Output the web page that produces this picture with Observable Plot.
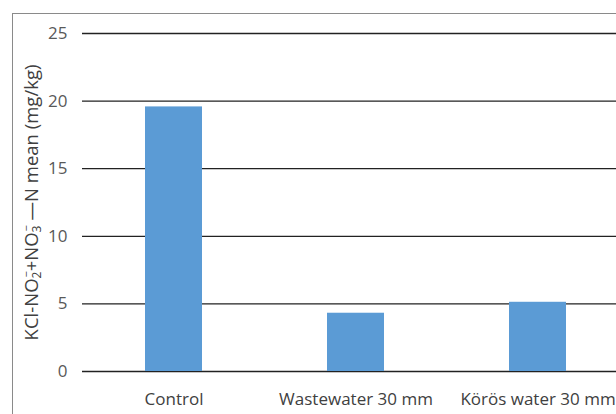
<!DOCTYPE html>
<html>
<head>
<meta charset="utf-8">
<script src="https://cdn.jsdelivr.net/npm/d3@7"></script>
<script src="https://cdn.jsdelivr.net/npm/@observablehq/plot@0.6"></script>
<style>
  html, body { margin: 0; padding: 0; background: #fff; overflow: hidden; }
  #wrap { position: relative; width: 616px; height: 414px; }
  #frame { position: absolute; left: 12px; top: 13px; width: 700px; height: 500px;
           border-left: 1.5px solid #8a8a8a; border-top: 1.5px solid #8a8a8a; box-sizing: border-box; }
  #chart { position: absolute; left: 0; top: 0; }
</style>
</head>
<body>
<div id="wrap"><div id="frame"></div><div id="chart"></div></div>
<script>
const categories = ["Control", "Wastewater 30 mm", "Körös water 30 mm"];
const values = [19.57, 4.31, 5.12];
const yTicks = [0, 5, 10, 15, 20, 25];
const yLabel = "KCl-NO₂⁻+NO₃⁻ —N mean (mg/kg)";

const data = categories.map((c, i) => ({category: c, value: values[i]}));
const font = "'Open Sans', sans-serif";

const chart = Plot.plot({
  width: 616,
  height: 414,
  marginLeft: 82,
  marginRight: 0,
  marginTop: 33,
  marginBottom: 43,
  style: {fontFamily: font, fontSize: "17px", background: "transparent", overflow: "visible"},
  x: {domain: categories, range: [82, 628], paddingInner: 0.687, paddingOuter: 0.3435, label: null},
  y: {domain: [0, 25], label: null},
  marks: [
    Plot.ruleY(yTicks, {stroke: "#222", strokeWidth: 1.3}),
    Plot.barY(data, {x: "category", y: "value", fill: "#5B9BD5"}),
    Plot.axisY({ticks: yTicks, tickSize: 0, tickPadding: 15, label: null, fill: "#595959", fontSize: 17}),
    Plot.axisX({tickSize: 0, tickPadding: 21, label: null, fill: "#404040", fontSize: 17}),
    Plot.text([yLabel], {frameAnchor: "left", textAnchor: "middle", rotate: -90, dx: -50, fill: "#404040", fontSize: 18.5, className: "ylab"})
  ]
});
document.getElementById("chart").appendChild(chart);

// render sub/superscripts of the y label as real text tspans
const t = chart.querySelector(".ylab text");
if (t) {
  t.textContent = "";
  const parts = [
    ["KCl-NO", null], ["2", "sub"], ["\u2212", "sup"], ["+NO", null], ["3", "sub"], ["\u2212", "sup"], [" \u2014N mean (mg/kg)", null]
  ];
  const ns = "http://www.w3.org/2000/svg";
  parts.forEach(([s, kind]) => {
    const ts = document.createElementNS(ns, "tspan");
    ts.textContent = s;
    if (kind === "sub") { ts.setAttribute("font-size", "12"); ts.setAttribute("baseline-shift", "-25%"); }
    if (kind === "sup") { ts.setAttribute("font-size", "11"); ts.setAttribute("baseline-shift", "70%"); ts.setAttribute("dx", "-6"); }
    t.appendChild(ts);
  });
}
</script>
</body>
</html>
